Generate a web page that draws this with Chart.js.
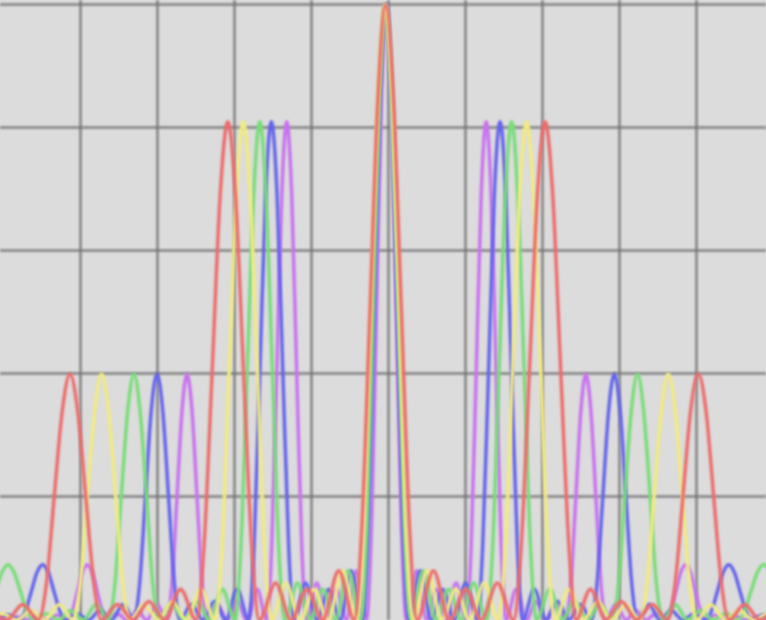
<!DOCTYPE html>
<html>
<head>
<meta charset="utf-8">
<script src="https://cdn.jsdelivr.net/npm/chart.js@4.4.1/dist/chart.umd.min.js"></script>
<style>
  html, body { margin: 0; padding: 0; background: #dcdcdc; }
  #graph-container { width: 766px; height: 620px; }
</style>
</head>
<body>
<div id="graph-container"><canvas id="myChart" width="766" height="620"></canvas></div>
<script>
// points as [x, y]; x: grid every 10, y: 0..100
var redPts = [
    [-51.6,1.5],[-49.5,0],[-47.45,2.5],
    [-45.4,0],[-44.35,6],[-43.35,20],[-42.3,34],[-41.3,40],[-40.3,34],[-39.25,20],[-38.2,6],[-37.2,0],
    [-35.15,2.5],[-33.1,0],[-31.05,3],[-29.0,0],[-26.95,5],
    [-24.9,0],[-23.9,12],[-22.85,40],[-21.8,69],[-20.8,81],[-19.8,69],[-18.75,40],[-17.7,12],[-16.7,0],
    [-14.6,6],[-12.6,0],[-10.5,5],[-8.5,0],[-6.4,8],
    [-4.4,0],[-3.4,15],[-2.35,50],[-1.3,85],[-0.3,100],[0.7,85],[1.75,50],[2.8,15],[3.8,0],
    [5.9,8],[8.0,0],[10.1,5],[12.1,0],[14.2,6],
    [16.3,0],[17.3,12],[18.35,40],[19.4,69],[20.4,81],[21.4,69],[22.45,40],[23.5,12],[24.4,0],
    [26.3,5],[28.3,0],[30.3,3],[32.3,0],[34.3,2.5],
    [36.3,0],[37.3,6],[38.3,20],[39.3,34],[40.3,40],[41.3,34],[42.3,20],[43.3,6],[44.3,0],
    [46.3,2.5],[48.3,0],[50.3,1.5]
];
var yellowPts = [
    [-52.0,0],[-50.1,1],[-48.2,0],[-46.4,1.5],[-44.6,0],[-42.7,2.5],
    [-40.9,0],[-39.95,6],[-39.05,20],[-38.1,34],[-37.2,40],[-36.3,34],[-35.35,20],[-34.45,6],[-33.5,0],
    [-31.7,2.5],[-29.8,0],[-28.0,3],[-26.2,0],[-24.3,5],
    [-22.5,0],[-21.55,12],[-20.65,40],[-19.7,69],[-18.8,81],[-17.9,69],[-16.95,40],[-16.05,12],[-15.1,0],
    [-13.3,6],[-11.4,0],[-9.6,5],[-7.8,0],[-5.9,8],
    [-4.1,0],[-3.15,15],[-2.25,50],[-1.3,85],[-0.4,100],[0.5,85],[1.45,50],[2.35,15],[3.3,0],
    [5.1,8],[7.0,0],[8.8,5],[10.6,0],[12.5,6],
    [14.3,0],[15.25,12],[16.15,40],[17.1,69],[18.0,81],[18.9,69],[19.85,40],[20.75,12],[21.7,0],
    [23.5,5],[25.4,0],[27.2,3],[29.0,0],[30.9,2.5],
    [32.7,0],[33.65,6],[34.55,20],[35.5,34],[36.4,40],[37.3,34],[38.25,20],[39.15,6],[40.1,0],
    [41.9,2.5],[43.8,0],[45.6,1.5],[47.5,0],[49.3,1],[51.1,0]
];
var greenPts = [
    [-52.6,0],[-51.8,1.4],[-51.0,4.5],[-50.15,7.7],[-49.35,9],[-48.55,7.7],[-47.7,4.5],[-46.9,1.4],[-46.1,0],
    [-44.45,1],[-42.8,0],[-41.2,1.5],[-39.55,0],[-37.9,2.5],
    [-36.3,0],[-35.45,6],[-34.65,20],[-33.8,34],[-33.0,40],[-32.2,34],[-31.35,20],[-30.55,6],[-29.7,0],
    [-28.1,2.5],[-26.4,0],[-24.8,3],[-23.2,0],[-21.5,5],
    [-19.9,0],[-19.1,12],[-18.3,40],[-17.45,69],[-16.65,81],[-15.85,69],[-15.0,40],[-14.2,12],[-13.4,0],
    [-11.75,6],[-10.1,0],[-8.5,5],[-6.8,0],[-5.2,8],
    [-3.6,0],[-2.75,15],[-1.95,50],[-1.1,85],[-0.3,100],[0.5,85],[1.35,50],[2.15,15],[3.0,0],
    [4.6,8],[6.2,0],[7.9,5],[9.5,0],[11.1,6],
    [12.8,0],[13.6,12],[14.4,40],[15.25,69],[16.05,81],[16.85,69],[17.7,40],[18.5,12],[19.3,0],
    [21.0,5],[22.6,0],[24.2,3],[25.9,0],[27.5,2.5],
    [29.1,0],[29.95,6],[30.75,20],[31.6,34],[32.4,40],[33.2,34],[34.05,20],[34.85,6],[35.7,0],
    [37.3,2.5],[38.9,0],[40.6,1.5],[42.2,0],[43.8,1],
    [45.5,0],[46.3,1.4],[47.1,4.5],[47.95,7.7],[48.75,9],[49.55,7.7],[50.4,4.5],[51.2,1.4],[52.0,0]
];
var bluePts = [
    [-50.8,0],[-49.3,0.8],
    [-47.8,0],[-47.1,1.4],[-46.35,4.5],[-45.6,7.7],[-44.85,9],[-44.1,7.7],[-43.35,4.5],[-42.6,1.4],[-41.9,0],
    [-40.4,1],[-38.9,0],[-37.4,1.5],[-35.9,0],[-34.4,2.5],
    [-33.0,0],[-32.25,6],[-31.5,20],[-30.75,34],[-30.0,40],[-29.25,34],[-28.5,20],[-27.75,6],[-27.0,0],
    [-25.5,2.5],[-24.05,0],[-22.5,3],[-21.05,0],[-19.6,5],
    [-18.1,0],[-17.4,12],[-16.65,40],[-15.9,69],[-15.15,81],[-14.4,69],[-13.65,40],[-12.9,12],[-12.2,0],
    [-10.7,6],[-9.2,0],[-7.7,5],[-6.2,0],[-4.8,8],
    [-3.3,0],[-2.55,15],[-1.8,50],[-1.05,85],[-0.3,100],[0.45,85],[1.2,50],[1.95,15],[2.7,0],
    [4.2,8],[5.6,0],[7.1,5],[8.6,0],[10.1,6],
    [11.6,0],[12.3,12],[13.05,40],[13.8,69],[14.55,81],[15.3,69],[16.05,40],[16.8,12],[17.5,0],
    [19.0,5],[20.5,0],[22.0,3],[23.5,0],[25.0,2.5],
    [26.4,0],[27.15,6],[27.9,20],[28.65,34],[29.4,40],[30.15,34],[30.9,20],[31.65,6],[32.4,0],
    [33.9,2.5],[35.3,0],[36.8,1.5],[38.3,0],[39.8,1],
    [41.3,0],[42.0,1.4],[42.75,4.5],[43.5,7.7],[44.25,9],[45.0,7.7],[45.75,4.5],[46.5,1.4],[47.2,0],
    [48.7,0.8],[50.2,0]
];
var magentaPts = [
    [-50.7,0.4],[-49.4,0],[-48.1,0.5],[-46.8,0],[-45.5,0.6],[-44.2,0],[-42.9,0.8],
    [-41.65,0],[-41.0,1.4],[-40.35,4.5],[-39.7,7.7],[-39.05,9],[-38.4,7.7],[-37.75,4.5],[-37.1,1.4],[-36.45,0],
    [-35.15,1],[-33.85,0],[-32.55,1.5],[-31.3,0],[-30.0,2.5],
    [-28.7,0],[-28.05,6],[-27.4,20],[-26.75,34],[-26.1,40],[-25.45,34],[-24.8,20],[-24.15,6],[-23.5,0],
    [-22.2,2.5],[-20.9,0],[-19.6,3],[-18.3,0],[-17.0,5],
    [-15.75,0],[-15.1,12],[-14.45,40],[-13.8,69],[-13.15,81],[-12.5,69],[-11.85,40],[-11.2,12],[-10.55,0],
    [-9.25,6],[-7.95,0],[-6.7,5],[-5.4,0],[-4.1,8],
    [-2.8,0],[-2.15,15],[-1.5,50],[-0.85,85],[-0.2,100],[0.45,85],[1.1,50],[1.75,15],[2.4,0],
    [3.7,8],[5.0,0],[6.3,5],[7.55,0],[8.85,6],
    [10.15,0],[10.8,12],[11.45,40],[12.1,69],[12.75,81],[13.4,69],[14.05,40],[14.7,12],[15.35,0],
    [16.65,5],[17.95,0],[19.25,3],[20.5,0],[21.8,2.5],
    [23.1,0],[23.75,6],[24.4,20],[25.05,34],[25.7,40],[26.35,34],[27.0,20],[27.65,6],[28.3,0],
    [29.6,2.5],[30.9,0],[32.2,1.5],[33.5,0],[34.75,1],
    [36.05,0],[36.7,1.4],[37.35,4.5],[38.0,7.7],[38.65,9],[39.3,7.7],[39.95,4.5],[40.6,1.4],[41.25,0],
    [42.55,0.8],[43.85,0],[45.15,0.6],[46.4,0],[47.7,0.5],[49.0,0],[50.3,0.4]
];

var seriesNames = ['red', 'yellow', 'green', 'blue', 'magenta'];
var seriesPts = [redPts, yellowPts, greenPts, bluePts, magentaPts];
var seriesColors = ['#ec6c6c', '#f0ea82', '#78dc78', '#6464ec', '#c872f0'];

var gridColor = 'rgba(115,115,115,0.72)';

function toXY(pts) {
    return pts.map(function (p) { return { x: p[0], y: p[1] }; });
}

var myChart = null;

function drawChart() {
    if (myChart != null) {
        myChart.destroy();
    }
    const ctx = document.getElementById('myChart').getContext('2d');

    var datasets = [];
    for (var i = 0; i < seriesPts.length; i++) {
        datasets.push({
            label: seriesNames[i],
            data: toXY(seriesPts[i]),
            borderColor: seriesColors[i],
            borderWidth: 3.5,
            pointRadius: 0,
            fill: false,
            cubicInterpolationMode: 'monotone'
        });
    }

    myChart = new Chart(ctx, {
        type: 'line',
        data: { datasets: datasets },
        plugins: [{
            id: 'bg',
            beforeDraw: function (chart) {
                var c = chart.ctx;
                c.fillStyle = '#dcdcdc';
                c.fillRect(0, 0, chart.width, chart.height);
                c.filter = 'blur(0.8px)'; // the picture is soft
            },
            afterDraw: function (chart) {
                chart.ctx.filter = 'none';
            }
        }],
        options: {
            responsive: false,
            animation: { duration: 0 },
            layout: { padding: 0 },
            plugins: { legend: { display: false }, tooltip: { enabled: false } },
            scales: {
                x: {
                    type: 'linear',
                    min: -50.39,
                    max: 49.09,
                    border: { display: false },
                    ticks: { display: false, stepSize: 10, includeBounds: false },
                    grid: {
                        drawTicks: false,
                        lineWidth: 3,
                        color: function (c) { return c.tick && c.tick.value <= -50 ? 'rgba(0,0,0,0)' : gridColor; }
                    }
                },
                y: {
                    min: 0,
                    max: 100.8,
                    border: { display: false },
                    ticks: { display: false, stepSize: 20, includeBounds: false },
                    grid: {
                        drawTicks: false,
                        lineWidth: 3,
                        color: function (c) { return c.tick && c.tick.value === 0 ? 'rgba(0,0,0,0)' : gridColor; }
                    }
                }
            }
        }
    });
}

drawChart();
</script>
</body>
</html>
